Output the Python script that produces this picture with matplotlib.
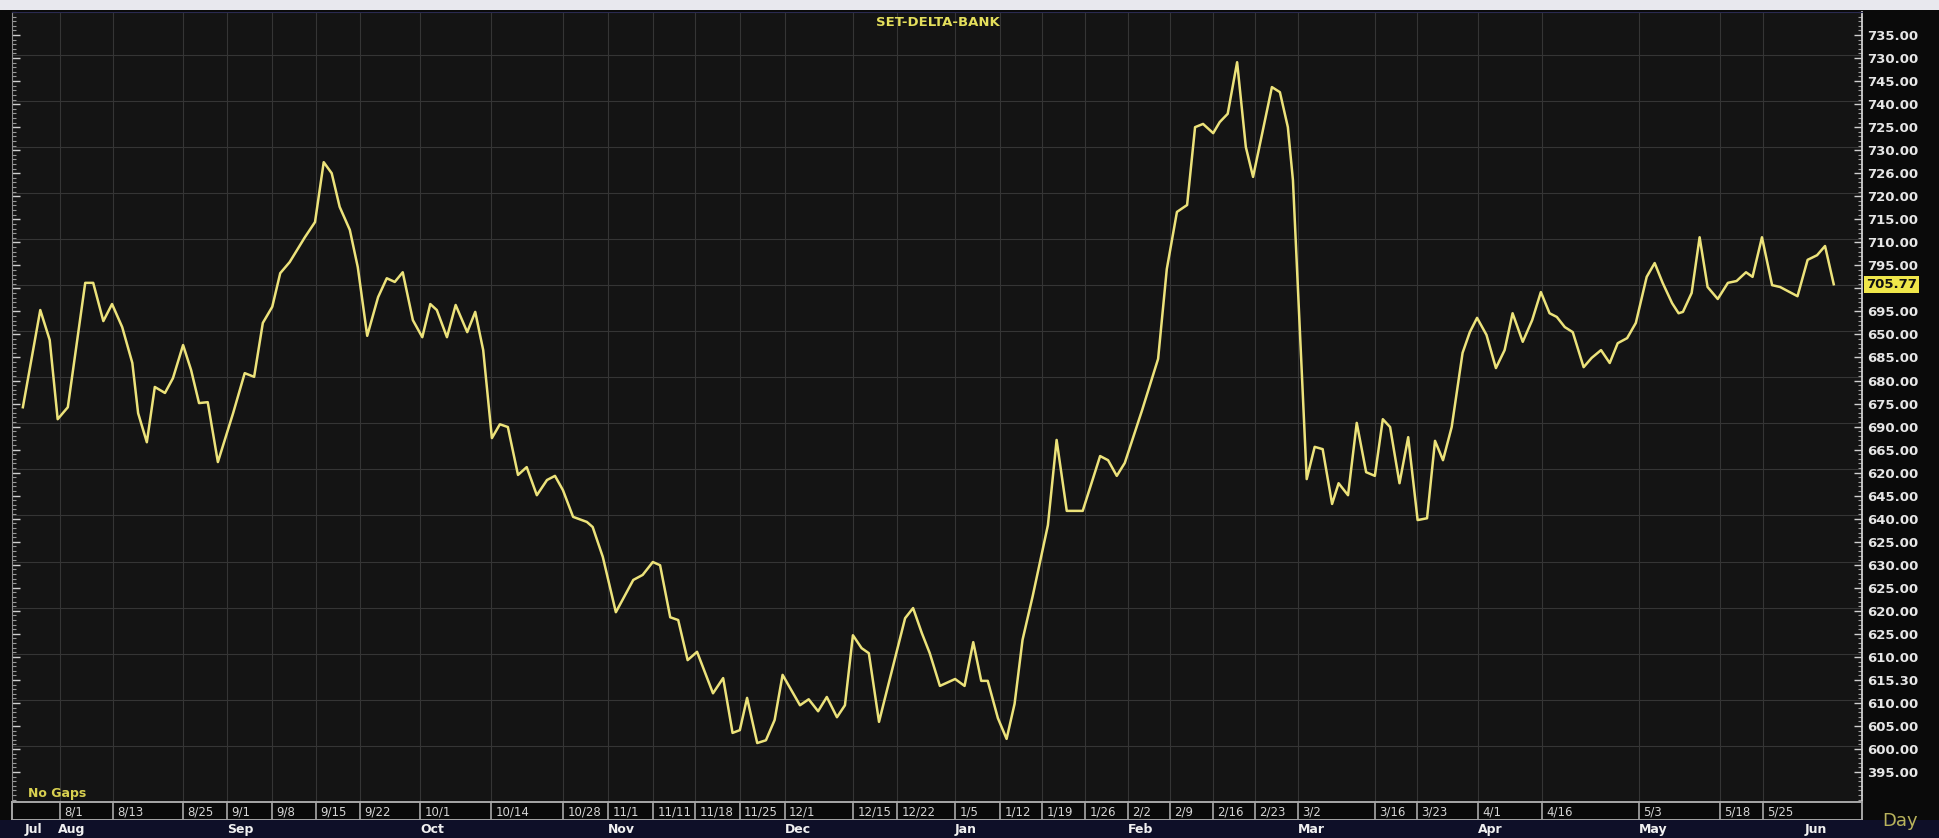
import numpy as np
import matplotlib
matplotlib.use("Agg")
import matplotlib.pyplot as plt
import matplotlib.transforms as mtransforms
from matplotlib.patches import Rectangle
from matplotlib.ticker import MultipleLocator

# trading session number (no gaps) and index level
session = [1.5, 3.9, 5.2, 6.3, 7.7, 10.1, 11.2, 12.6, 13.8, 15.2,
           16.6, 17.4, 18.6, 19.7, 21.1, 22.2, 23.6, 24.7, 25.8, 27.0,
           28.4, 30.5, 32.1, 33.4, 34.6, 35.9, 37.0, 38.3, 40.4, 41.8,
           43.0, 44.1, 45.2, 46.6, 47.7, 49.0, 50.5, 51.7, 52.8, 53.9,
           55.3, 56.6, 57.7, 58.6, 60.0, 61.2, 62.8, 63.9, 65.0, 66.2,
           67.3, 68.4, 69.8, 71.0, 72.4, 73.8, 74.9, 76.0, 77.4, 79.3,
           80.1, 81.5, 83.3, 85.7, 87.0, 88.4, 89.4, 90.8, 91.9, 93.2,
           94.5, 96.7, 98.1, 99.4, 100.4, 101.4, 102.8, 104.0, 105.2, 106.3,
           108.7, 109.9, 111.2, 112.4, 113.8, 114.9, 116.0, 117.2, 118.2, 119.6,
           121.5, 123.2, 124.3, 125.5, 126.6, 128.0, 130.1, 131.4, 132.6, 133.7,
           134.6, 136.0, 137.2, 138.3, 139.4, 140.8, 142.9, 144.1, 145.5, 147.7,
           150.1, 151.2, 152.4, 153.5, 155.9, 158.1, 159.3, 160.7, 162.1, 163.2,
           164.3, 165.7, 166.6, 167.7, 169.0, 170.2, 171.2, 173.8, 174.9, 176.0,
           176.7, 178.6, 179.7, 180.8, 182.1, 183.0, 184.3, 185.5, 186.8, 188.0,
           189.1, 190.1, 191.4, 192.6, 193.9, 195.2, 196.3, 197.4, 198.6, 200.1,
           201.1, 202.1, 203.4, 204.7, 205.9, 207.0, 208.4, 209.7, 210.9, 212.1,
           213.1, 214.2, 215.3, 216.8, 217.9, 219.2, 220.4, 221.5, 222.8, 224.0,
           225.5, 226.6, 227.7, 229.0, 229.9, 230.5, 231.7, 232.8, 233.9, 235.3,
           236.7, 237.9, 239.2, 240.1, 241.4, 242.8, 243.9, 246.3, 247.7, 249.0,
           250.1, 251.3]

close = [674.2, 695.3, 688.8, 671.6, 674.2, 701.2, 701.2, 692.9, 696.6, 691.6,
         683.8, 672.9, 666.6, 678.6, 677.3, 680.5, 687.7, 682.3, 675.1, 675.3,
         662.3, 672.9, 681.6, 680.8, 692.5, 696.0, 703.3, 705.7, 711.1, 714.4,
         727.4, 725.0, 717.7, 712.7, 704.6, 689.7, 698.1, 702.2, 701.4, 703.5,
         693.1, 689.4, 696.6, 695.3, 689.4, 696.4, 690.5, 694.9, 686.6, 667.5,
         670.5, 669.9, 659.5, 661.2, 655.1, 658.4, 659.3, 656.2, 650.4, 649.3,
         648.2, 641.7, 629.7, 636.7, 637.8, 640.6, 639.9, 628.6, 628.0, 619.3,
         621.1, 612.1, 615.4, 603.5, 604.1, 611.1, 601.3, 601.9, 606.3, 616.1,
         609.5, 610.8, 608.2, 611.3, 606.9, 609.5, 624.7, 621.9, 620.8, 605.9,
         617.8, 628.4, 630.6, 625.2, 620.8, 613.7, 615.2, 613.7, 623.2, 614.8,
         614.8, 606.7, 602.2, 609.8, 623.7, 633.2, 648.6, 667.1, 651.7, 651.7,
         663.6, 662.7, 659.3, 662.1, 673.6, 684.7, 704.2, 716.6, 718.1, 735.0,
         735.7, 733.7, 736.1, 737.9, 749.1, 730.7, 724.2, 743.7, 742.6, 735.0,
         723.5, 658.6, 665.6, 665.1, 653.2, 657.7, 655.1, 670.8, 660.1, 659.3,
         671.6, 669.9, 657.7, 667.7, 649.7, 650.1, 666.9, 662.7, 669.9, 686.0,
         690.5, 693.6, 689.9, 682.7, 686.6, 694.6, 688.4, 693.1, 699.2, 694.6,
         693.8, 691.6, 690.5, 682.9, 684.9, 686.6, 683.8, 688.1, 689.2, 692.5,
         702.5, 705.5, 701.2, 696.8, 694.6, 694.9, 699.0, 711.1, 700.3, 697.7,
         701.2, 701.6, 703.5, 702.5, 711.1, 700.7, 700.3, 698.3, 706.2, 707.2,
         709.2, 700.9]

last_label = "705.77"

# right axis labels, top to bottom (the slot under the last-price box is empty)
y_tick_labels = ["735.00", "730.00", "745.00", "740.00", "725.00", "730.00",
                 "726.00", "720.00", "715.00", "710.00", "795.00", "",
                 "695.00", "650.00", "685.00", "680.00", "675.00", "690.00",
                 "665.00", "620.00", "645.00", "640.00", "625.00", "630.00",
                 "625.00", "620.00", "625.00", "610.00", "615.30", "610.00",
                 "605.00", "600.00", "395.00"]

# date strip under the chart
week_pos = [6.6, 13.9, 23.6, 29.7, 35.9, 41.9, 48.0, 56.3, 66.1, 76.0,
            82.2, 88.4, 94.2, 100.4, 106.6, 116.0, 122.1, 130.1, 136.3, 142.1,
            148.0, 153.9, 159.7, 165.7, 171.4, 177.4, 188.0, 193.8, 202.2, 211.0,
            224.4, 235.6, 241.5]
week_labels = ["8/1", "8/13", "8/25", "9/1", "9/8", "9/15", "9/22", "10/1", "10/14", "10/28",
               "11/1", "11/11", "11/18", "11/25", "12/1", "12/15", "12/22", "1/5", "1/12", "1/19",
               "1/26", "2/2", "2/9", "2/16", "2/23", "3/2", "3/16", "3/23", "4/1", "4/16",
               "5/3", "5/18", "5/25"]

month_pos = [1.8, 6.4, 29.7, 56.3, 82.2, 106.6, 130.1, 153.9, 177.4, 202.2, 224.4, 247.3]
month_labels = ["Jul", "Aug", "Sep", "Oct", "Nov", "Dec", "Jan", "Feb", "Mar", "Apr", "May", "Jun"]

W, H = 1939, 838


def px_box(x0, y0, x1, y1):
    return [x0 / W, 1 - y1 / H, (x1 - x0) / W, (y1 - y0) / H]


fig = plt.figure(figsize=(W / 100, H / 100), dpi=100, facecolor="#0a0a0a")

# white band on top and navy band at the bottom
fig.patches.append(Rectangle((0, 1 - 10 / H), 1, 10 / H, transform=fig.transFigure,
                             fc="#e8e8ee", ec="none", zorder=0))
fig.patches.append(Rectangle((0, 0), 1, 18 / H, transform=fig.transFigure,
                             fc="#0e0f28", ec="none", zorder=0))

ax = fig.add_axes(px_box(12, 12, 1862, 802), facecolor="#141414")
ax.plot(session, close, color="#ece27a", lw=1.8, solid_joinstyle="round", zorder=3)
ax.set_xlim(0, 255.2)
ax.set_ylim(588.5, 760)

# grid
for v in np.arange(600.7, 751, 10):
    ax.axhline(v, color="#353535", lw=0.8, zorder=1)
for s in week_pos:
    ax.axvline(s, color="#353535", lw=0.8, zorder=1)

ax.set_xticks([])
ax.yaxis.tick_right()
ax.set_yticks(np.arange(755, 594, -5))
ax.set_yticklabels(y_tick_labels)
ax.yaxis.set_minor_locator(MultipleLocator(1))
ax.tick_params(axis="y", which="major", direction="in", length=6, width=1,
               color="#d0d0d0", labelcolor="#e6e6e6", labelsize=9.5, pad=4,
               left=True, labelleft=False)
ax.tick_params(axis="y", which="minor", direction="in", length=3, width=0.8,
               color="#9a9a9a", left=True)
for lab in ax.get_yticklabels():
    lab.set_fontweight("bold")
ax.spines["right"].set_color("#d0d0d0")
ax.spines["right"].set_linewidth(1.3)
ax.spines["left"].set_color("#8a8a8a")
ax.spines["top"].set_color("#2a2a50")
ax.spines["bottom"].set_color("#303030")

# last price box
trans = mtransforms.blended_transform_factory(ax.transAxes, ax.transData)
ax.text(1.002, close[-1], last_label, transform=trans, ha="left", va="center",
        fontsize=9.5, fontweight="bold", color="#111111", clip_on=False,
        bbox=dict(boxstyle="square,pad=0.15", fc="#efe64a", ec="none"))

fig.text(938 / W, 1 - 23 / H, "SET-DELTA-BANK", ha="center", va="center",
         color="#e4df5c", fontsize=9.5, fontweight="bold")
fig.text(28 / W, 1 - 793 / H, "No Gaps", ha="left", va="center",
         color="#d8d050", fontsize=9, fontweight="bold")

# date strip
strip = fig.add_axes(px_box(12, 802, 1862, 820), facecolor="#0a0a0a")
strip.set_xlim(ax.get_xlim())
strip.set_ylim(0, 1)
strip.set_xticks([])
strip.set_yticks([])
for side in ["top", "bottom", "left", "right"]:
    strip.spines[side].set_color("#a8a8a8")
    strip.spines[side].set_linewidth(1.4)
for s, lab in zip(week_pos, week_labels):
    strip.axvline(s, color="#a8a8a8", lw=1.2)
    strip.text(s + 0.6, 0.45, lab, ha="left", va="center", fontsize=8.5,
               color="#d6d6d6", clip_on=True)

mtrans = mtransforms.blended_transform_factory(ax.transData, fig.transFigure)
for s, lab in zip(month_pos, month_labels):
    fig.text(s, 1 - 829 / H, lab, transform=mtrans, ha="left", va="center",
             fontsize=9, fontweight="bold", color="#f0f0f0")

fig.text(1882 / W, 1 - 821 / H, "Day", ha="left", va="center",
         fontsize=13, color="#b9b35c")

fig.savefig("out.png", dpi=100, facecolor=fig.get_facecolor())
